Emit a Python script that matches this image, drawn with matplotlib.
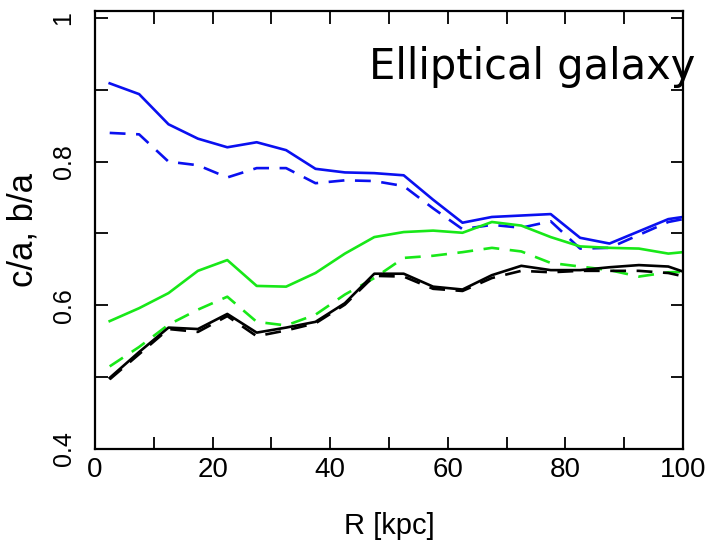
import numpy as np
import matplotlib
matplotlib.use("Agg")
import matplotlib.pyplot as plt
from matplotlib.ticker import MultipleLocator

# ---- data ----
R = [2.5, 7.5, 12.5, 17.5, 22.5, 27.5, 32.5, 37.5, 42.5, 47.5, 52.5,
     57.5, 62.5, 67.5, 72.5, 77.5, 82.5, 87.5, 92.5, 97.5, 102.5]

blue_solid = [0.909, 0.894, 0.852, 0.832, 0.820, 0.827, 0.816, 0.790, 0.785, 0.784, 0.781,
              0.747, 0.715, 0.723, 0.725, 0.727, 0.694, 0.686, 0.703, 0.720, 0.726]
blue_dashed = [0.840, 0.838, 0.800, 0.795, 0.778, 0.791, 0.791, 0.770, 0.774, 0.773, 0.766,
               0.735, 0.706, 0.712, 0.708, 0.717, 0.679, 0.680, 0.698, 0.716, 0.724]
green_solid = [0.578, 0.596, 0.617, 0.648, 0.663, 0.627, 0.626, 0.645, 0.672, 0.695, 0.702,
               0.704, 0.701, 0.716, 0.711, 0.695, 0.682, 0.680, 0.679, 0.672, 0.676]
green_dashed = [0.515, 0.542, 0.573, 0.594, 0.612, 0.577, 0.572, 0.587, 0.615, 0.638, 0.666,
                0.669, 0.674, 0.680, 0.675, 0.659, 0.654, 0.649, 0.640, 0.646, 0.647]
black_solid = [0.499, 0.535, 0.569, 0.567, 0.588, 0.562, 0.569, 0.577, 0.603, 0.644, 0.644,
               0.626, 0.622, 0.642, 0.655, 0.649, 0.649, 0.653, 0.656, 0.654, 0.640]
black_dashed = [0.497, 0.532, 0.567, 0.563, 0.585, 0.557, 0.565, 0.575, 0.601, 0.641, 0.640,
                0.623, 0.620, 0.638, 0.648, 0.646, 0.648, 0.648, 0.648, 0.645, 0.636]

x_ticks = [0, 20, 40, 60, 80, 100]
y_ticks = [0.4, 0.6, 0.8, 1.0]
y_ticklabels = ["0.4", "0.6", "0.8", "1"]

BLUE = "#0a10f0"
GREEN = "#18e818"
BLACK = "#000000"

fig = plt.figure(figsize=(7.06, 5.45), dpi=100)
ax = fig.add_axes([95 / 706, 96 / 545, 588 / 706, 438 / 545])

lw = 1.9
dash = (6, 4)
ax.plot(R, blue_solid, color=BLUE, lw=lw)
ax.plot(R, blue_dashed, color=BLUE, lw=lw, dashes=dash)
ax.plot(R, green_solid, color=GREEN, lw=lw)
ax.plot(R, green_dashed, color=GREEN, lw=lw, dashes=dash)
ax.plot(R, black_dashed, color=BLACK, lw=lw, dashes=dash)
ax.plot(R, black_solid, color=BLACK, lw=lw)

ax.set_xlim(0, 100)
ax.set_ylim(0.4, 1.0097)

ax.set_xticks(x_ticks)
ax.set_xticklabels([str(v) for v in x_ticks], fontfamily="Liberation Sans", fontsize=20)
ax.xaxis.set_minor_locator(MultipleLocator(10))
ax.set_yticks(y_ticks)
ax.set_yticklabels(y_ticklabels, fontfamily="Liberation Sans", fontsize=18,
                   rotation=90, va="center")
ax.yaxis.set_minor_locator(MultipleLocator(0.1))

ax.tick_params(which="both", direction="in", top=True, right=True,
               length=9, width=1.3, color="black")
ax.tick_params(axis="x", which="major", pad=6)
ax.tick_params(axis="y", which="major", pad=14)

for s in ax.spines.values():
    s.set_linewidth(1.6)

ax.set_xlabel("R [kpc]", fontfamily="Liberation Sans", fontsize=21)
ax.xaxis.set_label_coords(0.5, -0.143)
ax.set_ylabel("c/a, b/a", fontfamily="Liberation Sans", fontsize=25)
ax.yaxis.set_label_coords(-0.094, 0.5)

fig.text(369 / 706, (545 - 79) / 545, "Elliptical galaxy", fontfamily="DejaVu Sans",
         fontsize=30, ha="left", va="baseline", zorder=1)

fig.savefig("out.png", dpi=100)
